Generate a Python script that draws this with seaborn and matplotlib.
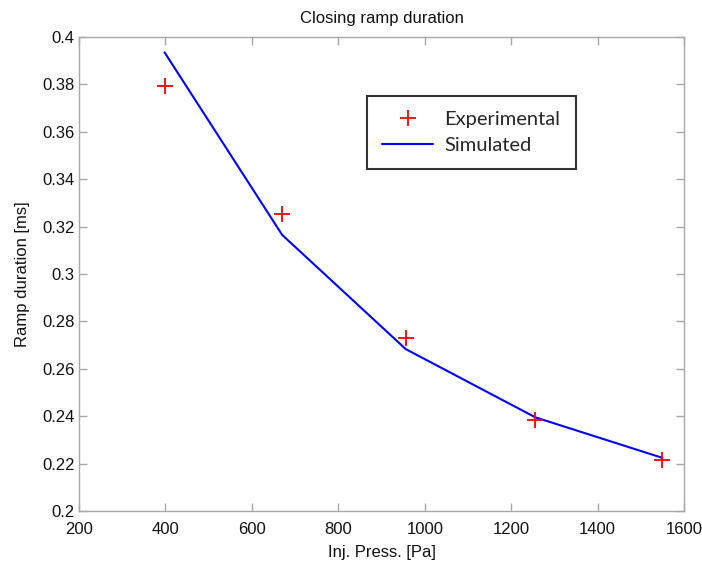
import matplotlib
matplotlib.use("Agg")
import matplotlib.pyplot as plt
import seaborn as sns
import pandas as pd

# Injection pressure [Pa] and ramp durations [ms]
pressure = [398, 670, 956, 1256, 1550]
experimental = [0.3795, 0.3253, 0.2730, 0.2382, 0.2217]
simulated = [0.3935, 0.3165, 0.2683, 0.2395, 0.2224]

x_ticks = [200, 400, 600, 800, 1000, 1200, 1400, 1600]
y_ticks = [0.2, 0.22, 0.24, 0.26, 0.28, 0.3, 0.32, 0.34, 0.36, 0.38, 0.4]
y_labels = ["0.2", "0.22", "0.24", "0.26", "0.28", "0.3", "0.32", "0.34", "0.36", "0.38", "0.4"]

df = pd.DataFrame({"pressure": pressure, "experimental": experimental, "simulated": simulated})

sns.set_style("white")
plt.rcParams["font.family"] = ["Liberation Sans", "DejaVu Sans"]

fig = plt.figure(figsize=(7.02, 5.65), dpi=100)
ax = fig.add_axes([0.1125, 0.0956, 0.862, 0.839])

sns.lineplot(data=df, x="pressure", y="simulated", ax=ax, color="#0000ff",
             linewidth=1.5, label="Simulated", legend=False)
sns.lineplot(data=df, x="pressure", y="experimental", ax=ax, color="#ff0000",
             linestyle="", marker="+", markersize=12, markeredgewidth=1.3,
             markeredgecolor="#ff0000", markerfacecolor="#ff0000",
             label="Experimental", legend=False)

ax.set_xlim(200, 1600)
ax.set_ylim(0.2, 0.4)
ax.set_xticks(x_ticks)
ax.set_xticklabels([str(t) for t in x_ticks])
ax.set_yticks(y_ticks)
ax.set_yticklabels(y_labels)

spine_col = "#a8a8a8"
for s in ax.spines.values():
    s.set_color(spine_col)
    s.set_linewidth(1.0)
    s.set_visible(True)
ax.tick_params(axis="both", direction="in", length=6, width=1.0, color=spine_col,
               labelsize=12, labelcolor="#111111", top=True, right=True,
               bottom=True, left=True, pad=3)
ax.tick_params(axis="x", pad=8)

ax.set_xlabel("Inj. Press. [Pa]", fontsize=12, labelpad=6, color="#111111")
ax.set_ylabel("Ramp duration [ms]", fontsize=12, labelpad=9, color="#111111")
ax.set_title("Closing ramp duration", fontsize=12, pad=10, color="#111111")

handles, labels = ax.get_legend_handles_labels()
order = [labels.index("Experimental"), labels.index("Simulated")]
leg = ax.legend([handles[i] for i in order], [labels[i] for i in order],
                loc="upper left", bbox_to_anchor=(0.476, 0.8755), borderaxespad=0,
                frameon=True, fancybox=False, handlelength=2.55, handletextpad=0.55,
                borderpad=0.75, labelspacing=0.45,
                prop={"family": ["Lato", "DejaVu Sans"], "size": 14.5})
frame = leg.get_frame()
frame.set_edgecolor("#333333")
frame.set_linewidth(1.5)
frame.set_facecolor("white")
frame.set_alpha(1.0)

fig.savefig("out.png", dpi=100, facecolor="white")
